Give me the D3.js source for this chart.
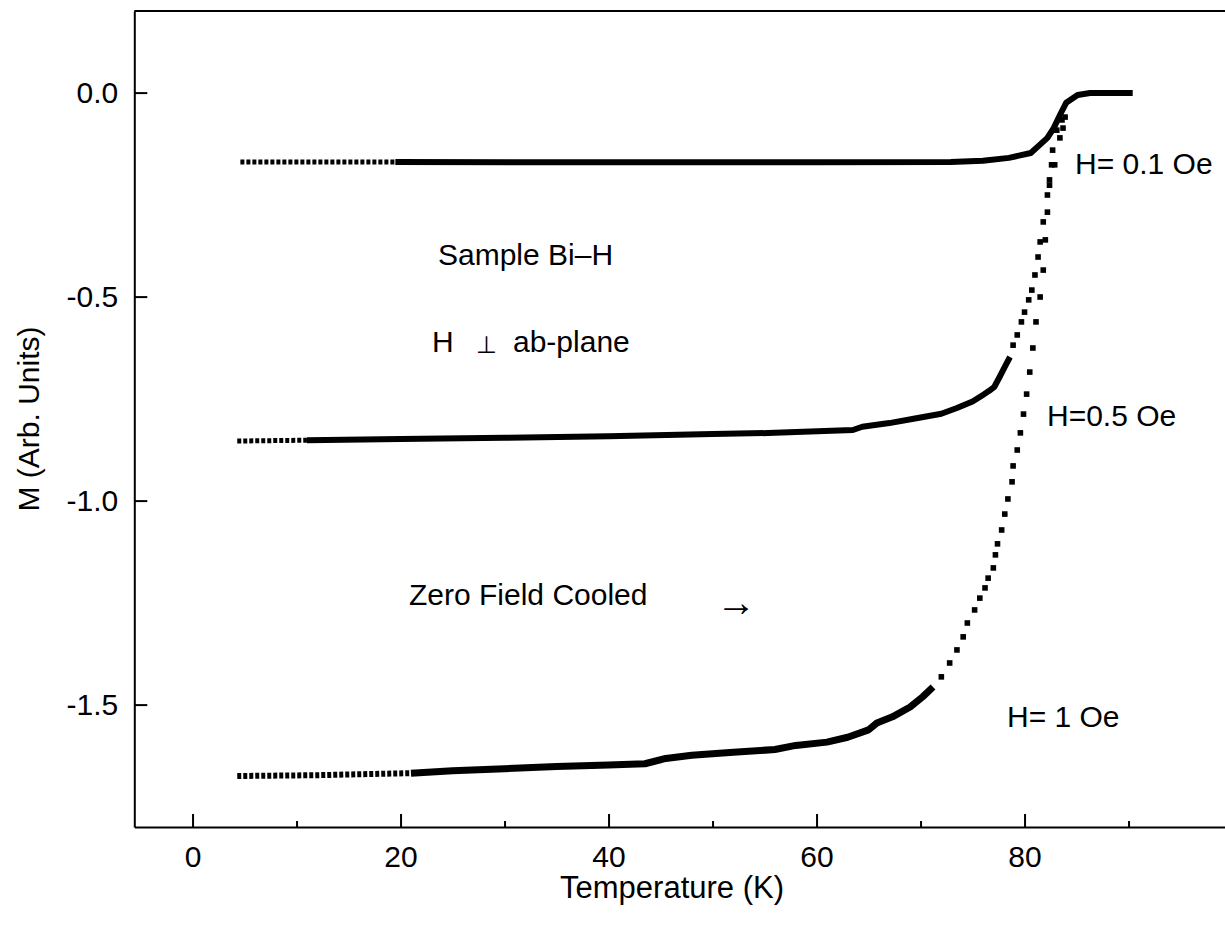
<!DOCTYPE html>
<html>
<head>
<meta charset="utf-8">
<script src="https://cdn.jsdelivr.net/npm/d3@7"></script>
<style>
  html, body { margin: 0; padding: 0; background: #fff; }
  svg { display: block; }
  text { font-family: "Liberation Sans", Arial, Helvetica, sans-serif; fill: #000; }
</style>
</head>
<body>
<svg id="chart" width="1225" height="925"></svg>
<script>
// Axis ticks
const tempTicks = [0, 20, 40, 60, 80];
const tempMinorTicks = [10, 30, 50, 70, 90];
const mTicks = [0, -0.5, -1.0, -1.5];
const mTickLabels = ["0.0", "-0.5", "-1.0", "-1.5"];

// Magnetization vs temperature, [T (K), M (arb. units)]
// H = 0.1 Oe
const h01Sparse = [[4.6, -0.170], [19.5, -0.170]];
const h01Band = [[19.5, -0.170], [40, -0.171], [60, -0.171], [72.9, -0.170], [76, -0.167],
  [78.5, -0.160], [80.6, -0.148], [82.2, -0.111], [82.8, -0.087], [83.5, -0.050],
  [84.0, -0.025], [85.1, -0.006], [86.3, -0.001], [90.4, -0.001]];
const h01Dots = [];

// H = 0.5 Oe
const h05Sparse = [[4.3, -0.854], [11, -0.852]];
const h05Band = [[11, -0.852], [20, -0.849], [30, -0.846], [40, -0.842], [50, -0.837],
  [56, -0.834], [63.5, -0.827], [64.4, -0.819], [67, -0.810], [69.6, -0.798],
  [72, -0.787], [73.5, -0.773], [75, -0.757], [76, -0.741], [76.6, -0.731],
  [77.1, -0.721], [77.6, -0.697], [78.1, -0.672], [78.6, -0.648]];
const h05Dots = [[78.9, -0.619], [79.3, -0.594], [79.7, -0.562], [80.0, -0.538], [80.4, -0.508],
  [80.7, -0.484], [81.0, -0.447], [81.3, -0.403], [81.5, -0.366], [81.8, -0.317],
  [82.2, -0.251], [82.4, -0.214], [82.6, -0.177], [82.7, -0.141], [83.1, -0.092],
  [83.6, -0.067]];

// H = 1 Oe
const h1Sparse = [[4.3, -1.675], [12, -1.673], [21, -1.668]];
const h1Band = [[21, -1.668], [25, -1.662], [30, -1.657], [35, -1.652], [40, -1.648],
  [43.5, -1.645], [45.5, -1.632], [48, -1.624], [52, -1.617], [56, -1.610],
  [58, -1.600], [61, -1.592], [63, -1.580], [65, -1.562], [65.8, -1.545],
  [67.3, -1.530], [69.0, -1.506], [70.2, -1.481], [71.2, -1.457]];
const h1Dots = [[72.0, -1.432],
  [72.8, -1.398], [73.5, -1.366], [74.1, -1.334], [74.5, -1.300], [75.2, -1.268],
  [75.7, -1.239], [76.2, -1.214], [76.5, -1.190], [77.0, -1.165], [77.2, -1.133],
  [77.4, -1.106], [77.8, -1.072], [78.1, -1.033], [78.4, -0.996], [78.8, -0.954],
  [78.9, -0.915], [79.3, -0.876], [79.6, -0.834], [79.9, -0.788], [80.2, -0.739],
  [80.5, -0.685], [80.8, -0.626], [81.1, -0.562], [81.5, -0.501], [81.8, -0.435],
  [82.0, -0.361], [82.2, -0.293], [82.4, -0.227], [82.9, -0.177], [83.4, -0.111],
  [83.7, -0.087], [83.9, -0.060]];

const curves = [
  { sparse: h01Sparse, band: h01Band, dots: h01Dots, width: 6 },
  { sparse: h05Sparse, band: h05Band, dots: h05Dots, width: 6 },
  { sparse: h1Sparse, band: h1Band, dots: h1Dots, width: 7 }
];

const svg = d3.select("#chart");
const plotLeft = 134.3, plotTop = 11, plotBottom = 827;

const x = d3.scaleLinear().domain([-5.6, 100]).range([plotLeft, plotLeft + 105.6 * 10.4]);
const y = d3.scaleLinear().domain([-1.8, 0.2]).range([plotBottom, plotTop]);

// top frame line
svg.append("line")
  .attr("x1", plotLeft).attr("x2", 1225).attr("y1", plotTop).attr("y2", plotTop)
  .attr("stroke", "#000").attr("stroke-width", 2);

// bottom axis
const xAxis = svg.append("g").attr("transform", `translate(0,${plotBottom})`)
  .call(d3.axisBottom(x).tickValues(tempTicks).tickSize(-13).tickSizeOuter(0).tickPadding(19)
    .tickFormat(d3.format("d")));
xAxis.select(".domain").attr("stroke-width", 2);
xAxis.selectAll(".tick line").attr("stroke-width", 2);
xAxis.selectAll(".tick text").attr("font-size", 30)
  .attr("font-family", "Liberation Sans, Arial, sans-serif");

const xMinor = svg.append("g").attr("transform", `translate(0,${plotBottom})`)
  .call(d3.axisBottom(x).tickValues(tempMinorTicks).tickSize(-6).tickSizeOuter(0).tickFormat(""));
xMinor.select(".domain").remove();
xMinor.selectAll(".tick line").attr("stroke-width", 2);

// left axis
const yAxis = svg.append("g").attr("transform", `translate(${plotLeft},0)`)
  .call(d3.axisLeft(y).tickValues(mTicks).tickSize(-13).tickSizeOuter(0).tickPadding(16)
    .tickFormat((d, i) => mTickLabels[i]));
yAxis.select(".domain").attr("stroke-width", 2);
yAxis.selectAll(".tick line").attr("stroke-width", 2);
yAxis.selectAll(".tick text").attr("font-size", 30)
  .attr("font-family", "Liberation Sans, Arial, sans-serif");

// axis titles
svg.append("text")
  .attr("x", 672).attr("y", 898)
  .attr("text-anchor", "middle").attr("font-size", 31)
  .text("Temperature (K)");

svg.append("text")
  .attr("transform", "translate(39,419) rotate(-90)")
  .attr("text-anchor", "middle").attr("font-size", 30)
  .text("M (Arb. Units)");

// data
const line = d3.line().x(d => x(d[0])).y(d => y(d[1]));
const plot = svg.append("g");

curves.forEach(c => {
  plot.append("path").datum(c.sparse)
    .attr("d", line).attr("fill", "none").attr("stroke", "#000")
    .attr("stroke-width", c.width - 1).attr("stroke-dasharray", "4,2");
  plot.append("path").datum(c.band)
    .attr("d", line).attr("fill", "none").attr("stroke", "#000")
    .attr("stroke-width", c.width).attr("stroke-linejoin", "round");
  plot.selectAll(null).data(c.dots).enter().append("rect")
    .attr("x", d => x(d[0]) - 2.8).attr("y", d => y(d[1]) - 2.8)
    .attr("width", 5.6).attr("height", 5.6).attr("fill", "#000");
});

// annotations
const notes = svg.append("g").attr("font-size", 30);
notes.append("text").attr("x", 1075).attr("y", 174).text("H= 0.1 Oe");
notes.append("text").attr("x", 1047).attr("y", 426).text("H=0.5 Oe");
notes.append("text").attr("x", 1007).attr("y", 727).text("H= 1 Oe");
notes.append("text").attr("x", 438).attr("y", 265).text("Sample Bi\u2013H");
notes.append("text").attr("x", 432).attr("y", 352).text("H");
notes.append("text").attr("x", 476).attr("y", 353).attr("font-size", 24)
  .attr("font-family", "DejaVu Sans, sans-serif").text("\u22A5");
notes.append("text").attr("x", 513).attr("y", 352).text("ab-plane");
notes.append("text").attr("x", 409).attr("y", 605).text("Zero Field Cooled");
notes.append("text").attr("x", 716).attr("y", 616).attr("font-size", 40)
  .attr("font-family", "DejaVu Sans, sans-serif").text("\u2192");
</script>
</body>
</html>
